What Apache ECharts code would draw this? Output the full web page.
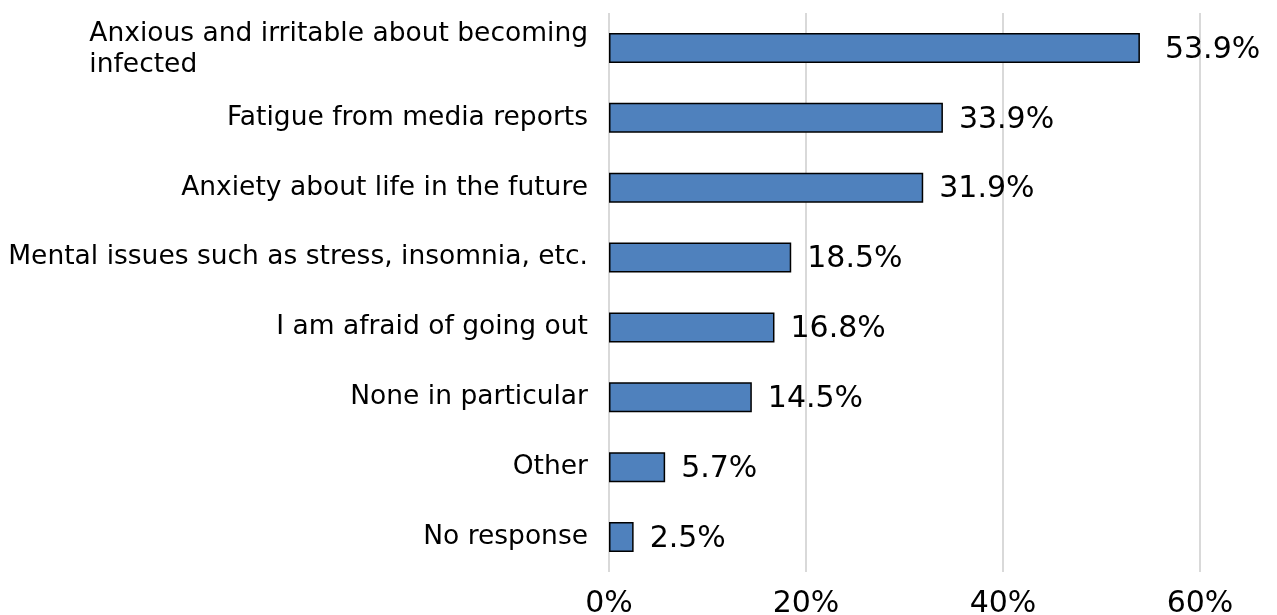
<!DOCTYPE html>
<html>
<head>
<meta charset="utf-8">
<script src="https://cdn.jsdelivr.net/npm/echarts@6/dist/echarts.min.js"></script>
<style>html,body{margin:0;padding:0;background:#fff}#c{width:1277px;height:615px}</style>
</head>
<body>
<div id="c"></div>
<script>
const categories = [
  "Anxious and irritable about becoming\ninfected",
  "Fatigue from media reports",
  "Anxiety about life in the future",
  "Mental issues such as stress, insomnia, etc.",
  "I am afraid of going out",
  "None in particular",
  "Other",
  "No response"
];
const values = [53.9, 33.9, 31.9, 18.5, 16.8, 14.5, 5.7, 2.5];
const xTicks = [0, 20, 40, 60];

const FONT = '"DejaVu Sans", sans-serif';
const chart = echarts.init(document.getElementById('c'));
chart.setOption({
  animation: false,
  grid: { left: 609, right: 77, top: 13, bottom: 43, containLabel: false, outerBoundsMode: 'none' },
  xAxis: {
    type: 'value', min: xTicks[0], max: xTicks[xTicks.length - 1], interval: 20,
    axisLine: { show: false }, axisTick: { show: false },
    splitLine: { show: true, lineStyle: { color: '#d9d9d9', width: 2 } },
    axisLabel: { formatter: v => v + '%', fontFamily: FONT, fontSize: 30, color: '#000', margin: 17 }
  },
  yAxis: {
    type: 'category', data: categories, inverse: true,
    axisLine: { show: false }, axisTick: { show: false },
    axisLabel: {
      fontFamily: FONT, fontSize: 26.5, color: '#000', margin: 21, lineHeight: 31,
      formatter: (v, i) => {
        if (v.indexOf('\n') >= 0) return v.split('\n').map(s => '{l|' + s + '}').join('\n');
        return v;
      },
      rich: { l: { align: 'left', fontFamily: FONT, fontSize: 26.5, color: '#000', lineHeight: 31, padding: [3, 0, 0, 0] } }
    }
  },
  series: [{
    type: 'bar',
    data: values.map((v, i) => i === 0 ? { value: v, label: { distance: 25 } } : v),
    barWidth: 30,
    itemStyle: { color: '#4f81bd', borderColor: '#000', borderWidth: 1.5 },
    label: { show: true, position: 'right', distance: 16, offset: [0, 2], formatter: p => p.value.toFixed(1) + '%',
      fontFamily: FONT, fontSize: 30, color: '#000' }
  }]
});
</script>
</body>
</html>
